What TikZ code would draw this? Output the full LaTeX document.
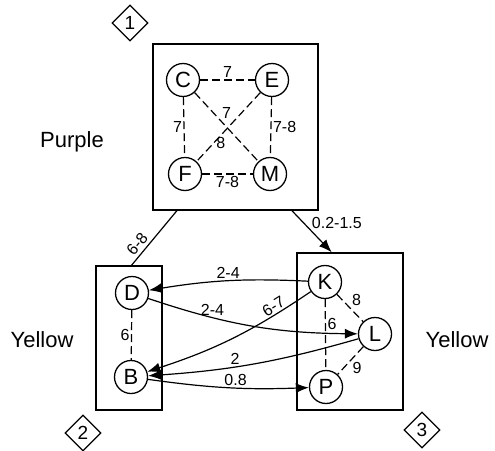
\documentclass[tikz,border=0pt]{standalone}
\usepackage{fontspec}
\setmainfont{Liberation Sans}
\usetikzlibrary{shapes.geometric}
\usetikzlibrary{arrows.meta}
\tikzstyle{region}=[draw, line width=1.4pt, inner sep=0]
\tikzstyle{patch}=[draw, circle, fill=white, line width=1.3pt, minimum size=33pt, inner sep=0, font=\fontsize{22}{22}\selectfont]
\tikzstyle{tag}=[draw, diamond, line width=1.3pt, minimum size=36pt, inner sep=0, font=\fontsize{19}{19}\selectfont]
\tikzstyle{colour}=[font=\fontsize{22}{22}\selectfont]
\tikzstyle{within}=[line width=1.2pt, dash pattern=on 8pt off 4pt]
\tikzstyle{between}=[line width=1.2pt, -{Latex[length=13pt,width=10pt]}]
\tikzstyle{weight}=[font=\fontsize{16}{16}\selectfont, inner sep=1.5pt]

\begin{document}
\begin{tikzpicture}[x=1pt, y=-1pt]
      \useasboundingbox (0,0) rectangle (495,450);

      % the three regions
      \node[region, minimum width=165pt, minimum height=166pt] (box1) at (235.5,127) {};
      \node[region, minimum width=66pt, minimum height=144pt] (box2) at (129,338) {};
      \node[region, minimum width=106pt, minimum height=157pt] (box3) at (350,331.5) {};

      \node[tag] (tag1) at (130,23) {1};
      \node[tag] (tag2) at (83,433) {2};
      \node[tag] (tag3) at (422,430) {3};

      \node[colour] (purple) at (72,142) {Purple};
      \node[colour] (yellow_left) at (42,340) {Yellow};
      \node[colour] (yellow_right) at (457,340) {Yellow};

      % region 1
      \node[patch] (C) at (183,80) {C};
      \node[patch] (E) at (272,80) {E};
      \node[patch] (F) at (185,174) {F};
      \node[patch] (M) at (270,174) {M};

      % region 2
      \node[patch] (D) at (132,293) {D};
      \node[patch] (B) at (131,377) {B};

      % region 3
      \node[patch] (K) at (325,282) {K};
      \node[patch] (L) at (375,334) {L};
      \node[patch] (P) at (326,387) {P};

      \draw[within] (C) to node[weight, above] {7} (E);
      \draw[within] (C) to node[weight, left] {7} (F);
      \draw[within] (E) to node[weight, right] {7-8} (M);
      \draw[within] (F) to node[weight, below] {7-8} (M);
      \draw[within] (C) to node[weight, pos=0.4, above right] {7} (M);
      \draw[within] (E) to node[weight, pos=0.62, below] {8} (F);

      \draw[within] (D) to node[weight, left] {6} (B);

      \draw[within] (K) to node[weight, above right] {8} (L);
      \draw[within] (K) to node[weight, pos=0.35, right] {6} (P);
      \draw[within] (L) to node[weight, below right] {9} (P);

      % between regions
      \draw[line width=1.2pt] (box1.-125) to node[weight, sloped, above, pos=0.72, inner sep=3pt] {6-8} (box2.88);
      \draw[between] (box1.-56) to node[weight, right, pos=0.3, xshift=6pt] {0.2-1.5} (box3.103);

      \draw[between] (K) to[bend right=6] node[weight, above] {2-4} (D);
      \draw[between] (D) to[bend right=9] node[weight, above, pos=0.3] {2-4} (L);
      \draw[between] (K) to[bend left=8] node[weight, sloped, above, pos=0.2] {6-7} (B);
      \draw[between] (L) to[bend left=6] node[weight, above, pos=0.6] {2} (B);
      \draw[between] (B) to[bend right=5] node[weight, above, pos=0.55] {0.8} (P);
    \end{tikzpicture}
\end{document}
